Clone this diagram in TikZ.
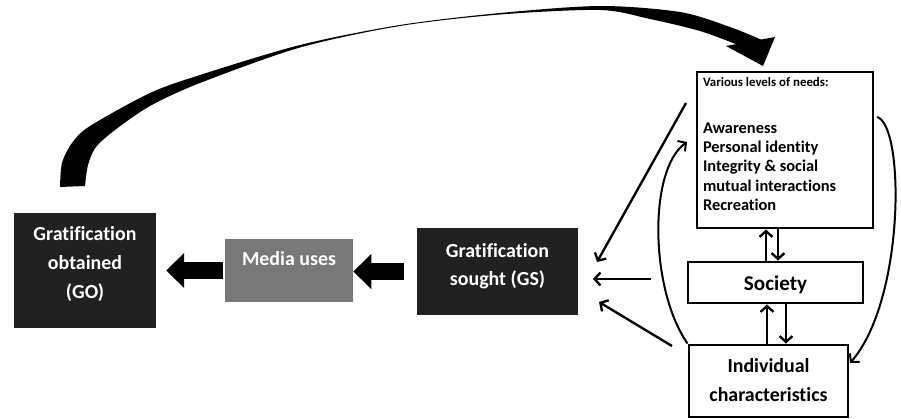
\documentclass[tikz,border=0pt]{standalone}
\usepackage{fontspec}
\setmainfont{Carlito}[Ligatures=NoCommon]
\usetikzlibrary{arrows.meta}

\begin{document}
\begin{tikzpicture}[x=0.03cm, y=-0.03cm,
    darkbox/.style={fill=black!87, text=white, font=\fontsize{17}{24.5}\selectfont\bfseries, align=flush center, inner sep=0pt},
    linebox/.style={draw, line width=2.5pt, fill=white, font=\fontsize{17}{24.5}\selectfont\bfseries, align=flush center, inner sep=0pt},
    blockarrow/.style={line width=14.5pt, -{Triangle[length=15.4pt, width=29pt]}},
    thinarrow/.style={line width=2pt, -{Straight Barb[length=5pt, width=11pt]}},
    curvearrow/.style={line width=1.7pt, -{Straight Barb[length=5pt, width=11pt]}}]
    \useasboundingbox (0,0) rectangle (901,418);

    \node[darkbox, text width=121.2pt, text height=23.9pt, text depth=74.3pt] (go) at (85,270.5) {Gratification\\obtained\\(GO)};
    \node[darkbox, fill=black!53, text width=109.3pt, text height=23pt, text depth=30.7pt] (media) at (289,270.5) {Media uses};
    \node[darkbox, text width=137.4pt, text height=24.8pt, text depth=49.5pt] (gs) at (497.5,271.5) {Gratification\\sought (GS)};

    \node[linebox, align=flush left, text width=140pt, inner xsep=5.1pt, text height=12pt, text depth=121.2pt,
        font=\fontsize{14}{16.6}\selectfont\bfseries] (needs) at (785,150)
        {{\fontsize{11}{13}\selectfont Various levels of needs:}\\[23.5pt]Awareness\\Personal identity\\Integrity \& social\\mutual interactions\\Recreation};
    \node[linebox, font=\fontsize{18}{24}\selectfont\bfseries, text width=149.4pt, text height=23.9pt, text depth=11.1pt] (society) at (775.5,282.5) {Society};
    \node[linebox, text width=135.7pt, text height=23.9pt, text depth=37.6pt] (individual) at (768.5,381) {Individual\\characteristics};

    \draw[blockarrow, shorten <=1.7pt, shorten >=8.5pt] (media.west) -- (go.east);
    \draw[blockarrow, shorten <=11pt] (gs.west) -- (gs.west -| media.east);

    \coordinate (n-up) at ([xshift=-0.285cm]society.north);
    \coordinate (n-down) at ([xshift=0.075cm]society.north);
    \draw[thinarrow] (n-up) -- (n-up |- needs.south);
    \draw[thinarrow] (n-down |- needs.south) -- (n-down);
    \coordinate (s-up) at ([xshift=-0.255cm]society.south);
    \coordinate (s-down) at ([xshift=0.315cm]society.south);
    \draw[thinarrow] (s-up |- individual.north) -- (s-up);
    \draw[thinarrow] (s-down) -- (s-down |- individual.north);

    \coordinate (needs-out) at (686,103);
    \coordinate (gs-in1) at (597,262);
    \coordinate (society-out) at (651,279);
    \coordinate (gs-in2) at (593,279);
    \coordinate (individual-out) at (672,346);
    \coordinate (gs-in3) at (599,302);
    \draw[thinarrow] (needs-out) -- (gs-in1);
    \draw[thinarrow] (society-out) -- (gs-in2);
    \draw[thinarrow] (individual-out) -- (gs-in3);

    \coordinate (needs-l) at (687,142);
    \coordinate (needs-r) at (877,117);
    \coordinate (individual-r) at (850,363);
    \draw[curvearrow] (individual.north west) .. controls (650,290) and (648,170) .. (needs-l);
    \draw[curvearrow] (needs-r) .. controls (905,125) and (905,300) .. (individual-r);

    \fill plot[smooth] coordinates {(60,187) (62,163) (72,143) (90,126) (150,93) (200,75) (300,45) (400,25) (500,13) (600,6) (680,12) (730,27) (762,40)}
        -- plot[smooth] coordinates {(738,45) (700,31) (650,19) (600,10) (500,14.5) (400,26) (300,47.5) (200,83) (150,106) (115,130) (96,147) (88,165) (85,186)} -- cycle;
    \fill (726,46) -- (775,37) -- (763,66) -- cycle;
\end{tikzpicture}
\end{document}
